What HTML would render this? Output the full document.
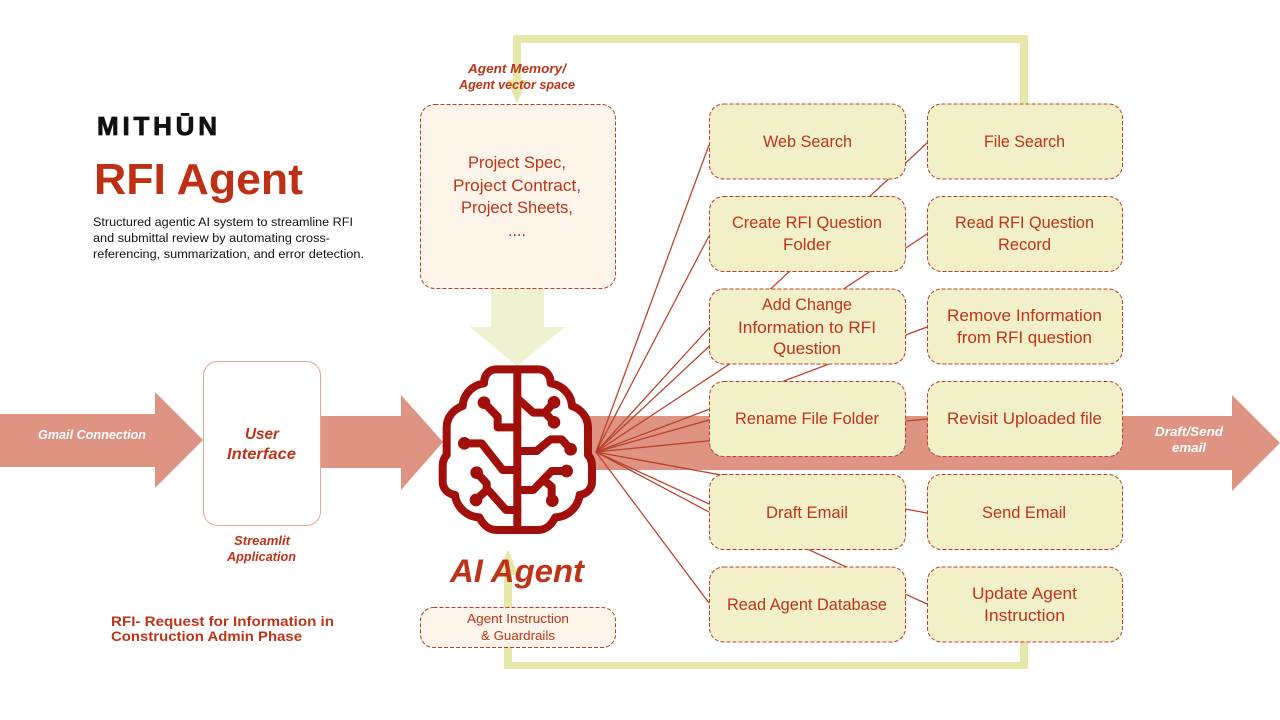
<!DOCTYPE html>
<html><head><meta charset="utf-8"><style>
html,body{margin:0;padding:0;background:#fff}
svg{display:block}
text{font-family:"Liberation Sans",sans-serif;fill:#BE3418;text-anchor:start}
.b{font-size:16.5px}
.i{font-weight:bold;font-style:italic}
.box{fill:#F2F0C9;stroke:#B8402A;stroke-width:1;stroke-dasharray:4 2}
.pale{fill:#FDF5E9;stroke:#B8402A;stroke-width:1;stroke-dasharray:4 2}
.d{fill:#111;font-size:12.3px}
</style></head><body>
<svg width="1280" height="720" viewBox="0 0 1280 720" xmlns="http://www.w3.org/2000/svg">
<rect width="1280" height="720" fill="#fff"/>
<!-- yellow loop -->
<g fill="#E6E7A9">
<path d="M513 35H1028V104H1020V43H521V85H513Z"/>
<path d="M507 80H527L517 103Z"/>
<path d="M504 572H512V662H1020V642H1028V669H504Z"/>
<path d="M498 575L508 549L518 575Z"/>
</g>
<!-- light down arrow -->
<path d="M491 289H544V327H565L517 366L470 327H491Z" fill="#EFF2D0"/>
<!-- red arrows -->
<g fill="#DF9483">
<path d="M0 414H155V392L203 440L155 488V467H0Z"/>
<path d="M321 416H401V395L443 442L401 490V468H321Z"/>
<path d="M588 416H1232V395L1280 443L1232 491V470H588Z"/>
</g>
<!-- connector lines -->
<g stroke="#B8402A" stroke-width="1.25" fill="none">
<path d="M596 452L709 145"/>
<path d="M596 452L709 236"/>
<path d="M596 452L927 143"/>
<path d="M596 452L709 328"/>
<path d="M596 452L927 234"/>
<path d="M596 452L927 327"/>
<path d="M596 452L709 420"/>
<path d="M596 452L927 419"/>
<path d="M596 452L927 513"/>
<path d="M596 452L709 512"/>
<path d="M596 452L927 604"/>
<path d="M596 452L709 603"/>
</g>
<!-- boxes -->
<g>
<rect class="pale" x="420.5" y="104.5" width="195" height="184" rx="14"/>
<rect class="pale" x="420.5" y="607.5" width="195" height="40" rx="13"/>
<rect x="203.500" y="361.500" width="117" height="164" rx="14" fill="#fff" stroke="#E5A695" stroke-width="1"/>
<rect class="box" x="709.500" y="104" width="196" height="75" rx="14"/>
<rect class="box" x="709.500" y="196.500" width="196" height="75" rx="14"/>
<rect class="box" x="709.500" y="289" width="196" height="75" rx="14"/>
<rect class="box" x="709.500" y="381.500" width="196" height="75" rx="14"/>
<rect class="box" x="709.500" y="474.500" width="196" height="75" rx="14"/>
<rect class="box" x="709.500" y="567" width="196" height="75" rx="14"/>
<rect class="box" x="927.500" y="104" width="195" height="75" rx="14"/>
<rect class="box" x="927.500" y="196.500" width="195" height="75" rx="14"/>
<rect class="box" x="927.500" y="289" width="195" height="75" rx="14"/>
<rect class="box" x="927.500" y="381.500" width="195" height="75" rx="14"/>
<rect class="box" x="927.500" y="474.500" width="195" height="75" rx="14"/>
<rect class="box" x="927.500" y="567" width="195" height="75" rx="14"/>
</g>
<!-- brain -->
<g transform="translate(420 340) scale(.3333)" stroke="#A10F0B" fill="none" stroke-linecap="round" stroke-linejoin="round">
<path fill="#fff" stroke-width="24" d="M292 88H228C208 88 192 105 192 130C160 135 130 160 128 198C100 208 80 232 80 262V345C68 358 68 372 68 385V425C68 448 85 462 105 465C108 495 135 530 178 532C190 555 205 570 230 570H354C379 570 394 555 406 532C449 530 476 495 479 465C499 462 516 448 516 425V385C516 372 516 358 504 345V262C504 232 484 208 456 198C454 160 424 135 392 130C392 105 376 88 356 88Z"/>
<g stroke-width="24">
<path d="M292 88V570"/>
<path d="M192 188L233 230V262H292"/>
<path d="M133 310H185L248 390H292"/>
<path d="M170 398L200 430V445L258 510H292"/>
<path d="M168 480L200 450"/>
<path d="M292 175L340 218H375L402 187"/>
<path d="M375 218L402 247"/>
<path d="M292 333H350L392 298H425L452 328"/>
<path d="M292 450H340L395 393H440"/>
<path d="M370 420L395 440V482"/>
</g>
<g fill="#A10F0B" stroke="none">
<circle cx="192" cy="188" r="19"/><circle cx="133" cy="310" r="19"/><circle cx="170" cy="398" r="19"/><circle cx="168" cy="480" r="19"/>
<circle cx="402" cy="187" r="19"/><circle cx="402" cy="247" r="19"/><circle cx="452" cy="328" r="19"/><circle cx="440" cy="393" r="19"/><circle cx="397" cy="482" r="19"/>
</g>
</g>
<!-- header -->
<text x="97" y="135" textLength="120" lengthAdjust="spacing" style="fill:#111;stroke:#111;stroke-width:.8;font-size:26px;font-weight:bold">MITHŪN</text>
<text x="94" y="194" textLength="209" lengthAdjust="spacingAndGlyphs" style="fill:#BE3013;font-size:44px;font-weight:bold">RFI Agent</text>
<text class="d" x="93" y="226" textLength="260" lengthAdjust="spacingAndGlyphs">Structured agentic AI system to streamline RFI</text>
<text class="d" x="93" y="242" textLength="237" lengthAdjust="spacingAndGlyphs">and submittal review by automating cross-</text>
<text class="d" x="93" y="258" textLength="271" lengthAdjust="spacingAndGlyphs">referencing, summarization, and error detection.</text>
<text x="111" y="626" textLength="223" lengthAdjust="spacingAndGlyphs" style="font-size:14px;font-weight:bold">RFI- Request for Information in</text>
<text x="111" y="641" textLength="191" lengthAdjust="spacingAndGlyphs" style="font-size:14px;font-weight:bold">Construction Admin Phase</text>
<!-- arrow labels -->
<text class="i" x="38" y="439" textLength="108" lengthAdjust="spacingAndGlyphs" style="font-size:12.500px;fill:#fff">Gmail Connection</text>
<text class="i" x="1155" y="436" textLength="68" lengthAdjust="spacingAndGlyphs" style="font-size:12.500px;fill:#fff">Draft/Send</text>
<text class="i" x="1172" y="452" textLength="34" lengthAdjust="spacingAndGlyphs" style="font-size:12.500px;fill:#fff">email</text>
<text class="i" x="245" y="439" textLength="34" lengthAdjust="spacingAndGlyphs" style="font-size:16px">User</text>
<text class="i" x="227" y="459" textLength="69" lengthAdjust="spacingAndGlyphs" style="font-size:16px">Interface</text>
<text class="i" x="234" y="545" textLength="56" lengthAdjust="spacingAndGlyphs" style="font-size:12.500px">Streamlit</text>
<text class="i" x="227" y="561" textLength="69" lengthAdjust="spacingAndGlyphs" style="font-size:12.500px">Application</text>
<text class="i" x="468" y="73" textLength="98" lengthAdjust="spacingAndGlyphs" style="font-size:12.500px">Agent Memory/</text>
<text class="i" x="459" y="89" textLength="116" lengthAdjust="spacingAndGlyphs" style="font-size:12.500px">Agent vector space</text>
<text class="i" x="450" y="582" textLength="134" lengthAdjust="spacingAndGlyphs" style="font-size:32px">AI Agent</text>
<!-- pale box text -->
<text class="b" x="468" y="168" textLength="98" lengthAdjust="spacingAndGlyphs">Project Spec,</text>
<text class="b" x="453" y="191" textLength="128" lengthAdjust="spacingAndGlyphs">Project Contract,</text>
<text class="b" x="461" y="213" textLength="112" lengthAdjust="spacingAndGlyphs">Project Sheets,</text>
<text class="b" x="508" y="236" textLength="18" lengthAdjust="spacingAndGlyphs">....</text>
<text x="467" y="623" textLength="102" lengthAdjust="spacingAndGlyphs" style="font-size:13px">Agent Instruction</text>
<text x="481" y="640" textLength="74" lengthAdjust="spacingAndGlyphs" style="font-size:13px">&amp; Guardrails</text>
<!-- column 1 -->
<text class="b" x="763" y="147" textLength="89" lengthAdjust="spacingAndGlyphs">Web Search</text>
<text class="b" x="732" y="228" textLength="150" lengthAdjust="spacingAndGlyphs">Create RFI Question</text>
<text class="b" x="783" y="250" textLength="48" lengthAdjust="spacingAndGlyphs">Folder</text>
<text class="b" x="762" y="310" textLength="90" lengthAdjust="spacingAndGlyphs">Add Change</text>
<text class="b" x="738" y="333" textLength="138" lengthAdjust="spacingAndGlyphs">Information to RFI</text>
<text class="b" x="773" y="354" textLength="68" lengthAdjust="spacingAndGlyphs">Question</text>
<text class="b" x="735" y="424" textLength="144" lengthAdjust="spacingAndGlyphs">Rename File Folder</text>
<text class="b" x="766" y="518" textLength="82" lengthAdjust="spacingAndGlyphs">Draft Email</text>
<text class="b" x="727" y="610" textLength="160" lengthAdjust="spacingAndGlyphs">Read Agent Database</text>
<!-- column 2 -->
<text class="b" x="984" y="147" textLength="81" lengthAdjust="spacingAndGlyphs">File Search</text>
<text class="b" x="955" y="228" textLength="139" lengthAdjust="spacingAndGlyphs">Read RFI Question</text>
<text class="b" x="998" y="250" textLength="53" lengthAdjust="spacingAndGlyphs">Record</text>
<text class="b" x="947" y="321" textLength="155" lengthAdjust="spacingAndGlyphs">Remove Information</text>
<text class="b" x="957" y="343" textLength="135" lengthAdjust="spacingAndGlyphs">from RFI question</text>
<text class="b" x="947" y="424" textLength="155" lengthAdjust="spacingAndGlyphs">Revisit Uploaded file</text>
<text class="b" x="982" y="518" textLength="84" lengthAdjust="spacingAndGlyphs">Send Email</text>
<text class="b" x="972" y="599" textLength="105" lengthAdjust="spacingAndGlyphs">Update Agent</text>
<text class="b" x="984" y="621" textLength="81" lengthAdjust="spacingAndGlyphs">Instruction</text>
</svg>
</body></html>
